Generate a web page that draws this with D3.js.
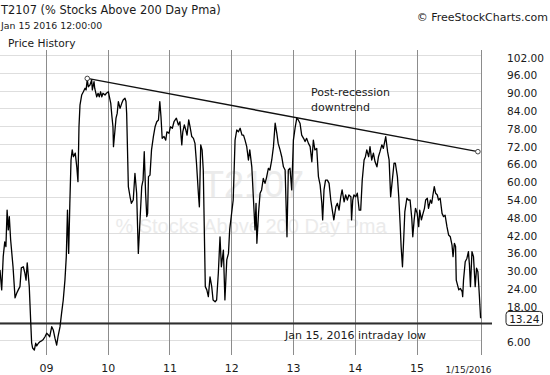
<!DOCTYPE html>
<html>
<head>
<meta charset="utf-8">
<script src="https://cdn.jsdelivr.net/npm/d3@7"></script>
<style>
  body { margin: 0; background: #fff; }
  text { font-family: "DejaVu Sans", Verdana, sans-serif; fill: #1a1a1a; }
</style>
</head>
<body>
<div id="chart"></div>
<script>
// T2107 readings, [date, % of stocks above 200 day moving average]
var t2107 = [
  ["2008-04-04", 29.5], ["2008-04-14", 22.8], ["2008-04-23", 34.0], ["2008-05-02", 39.0],
  ["2008-05-09", 37.4], ["2008-05-16", 49.7], ["2008-05-23", 43.0], ["2008-05-29", 47.5],
  ["2008-06-06", 39.6], ["2008-06-20", 30.6], ["2008-07-02", 20.1], ["2008-07-11", 21.6],
  ["2008-07-21", 22.8], ["2008-07-31", 23.9], ["2008-08-08", 30.2], ["2008-08-20", 30.6],
  ["2008-08-29", 28.5], ["2008-09-05", 26.1], ["2008-09-12", 31.9], ["2008-09-24", 23.9],
  ["2008-10-03", 11.5], ["2008-10-08", 4.9], ["2008-10-14", 3.2], ["2008-10-24", 2.5],
  ["2008-11-01", 4.8], ["2008-11-07", 3.9], ["2008-11-17", 4.8], ["2008-11-26", 5.3],
  ["2008-12-08", 5.7], ["2008-12-16", 6.1], ["2008-12-26", 7.0],
  ["2009-01-05", 8.2], ["2009-01-15", 7.6], ["2009-01-23", 7.0], ["2009-02-04", 10.4],
  ["2009-02-13", 9.3], ["2009-02-23", 6.5], ["2009-03-05", 4.2], ["2009-03-13", 7.0],
  ["2009-03-25", 10.4], ["2009-04-03", 14.9], ["2009-04-13", 19.4], ["2009-04-23", 26.1],
  ["2009-05-01", 34.0], ["2009-05-08", 49.7], ["2009-05-15", 35.1], ["2009-05-22", 52.0],
  ["2009-05-29", 66.6], ["2009-06-05", 70.0], ["2009-06-12", 67.7], ["2009-06-23", 68.9],
  ["2009-07-02", 64.3], ["2009-07-09", 59.3], ["2009-07-15", 77.8], ["2009-07-21", 85.1],
  ["2009-07-31", 88.5], ["2009-08-10", 89.6], ["2009-08-20", 90.8], ["2009-08-26", 90.2],
  ["2009-09-02", 93.8], ["2009-09-08", 91.3], ["2009-09-18", 91.9], ["2009-09-28", 93.6],
  ["2009-10-02", 90.2], ["2009-10-12", 93.0], ["2009-10-16", 90.8], ["2009-10-28", 87.9],
  ["2009-11-05", 89.1], ["2009-11-12", 87.9], ["2009-11-20", 89.6], ["2009-11-27", 87.9],
  ["2009-12-04", 89.1], ["2009-12-16", 88.5], ["2009-12-24", 89.1],
  ["2010-01-05", 89.6], ["2010-01-11", 87.9], ["2010-01-19", 85.7], ["2010-01-26", 81.2],
  ["2010-02-01", 77.8], ["2010-02-04", 71.1], ["2010-02-12", 76.1], ["2010-02-19", 80.7],
  ["2010-02-26", 82.3], ["2010-03-05", 86.3], ["2010-03-15", 84.0], ["2010-03-25", 85.7],
  ["2010-04-02", 86.8], ["2010-04-13", 87.4], ["2010-04-19", 86.3], ["2010-04-23", 82.3],
  ["2010-05-03", 57.6], ["2010-05-13", 54.2], ["2010-05-21", 52.0], ["2010-06-01", 53.1],
  ["2010-06-11", 62.1], ["2010-06-21", 55.4], ["2010-07-01", 35.1], ["2010-07-09", 44.1],
  ["2010-07-21", 57.6], ["2010-07-29", 59.8], ["2010-08-05", 69.4], ["2010-08-13", 55.4],
  ["2010-08-20", 47.5], ["2010-08-25", 48.6], ["2010-08-30", 61.0], ["2010-09-08", 61.5],
  ["2010-09-17", 70.0], ["2010-09-28", 74.5], ["2010-10-08", 77.8], ["2010-10-18", 79.5],
  ["2010-10-28", 80.1], ["2010-11-05", 86.3], ["2010-11-12", 81.2], ["2010-11-19", 73.9],
  ["2010-11-30", 74.5], ["2010-12-10", 73.3], ["2010-12-17", 76.1], ["2010-12-29", 75.6],
  ["2011-01-07", 77.8], ["2011-01-18", 77.3], ["2011-01-28", 79.5], ["2011-02-11", 80.7],
  ["2011-02-23", 78.4], ["2011-03-04", 79.5], ["2011-03-15", 71.7], ["2011-03-21", 76.1],
  ["2011-03-30", 78.4], ["2011-04-08", 76.7], ["2011-04-15", 75.0], ["2011-04-25", 80.1],
  ["2011-05-03", 77.8], ["2011-05-13", 74.5], ["2011-05-23", 73.9], ["2011-06-01", 72.2],
  ["2011-06-10", 65.5], ["2011-06-21", 55.4], ["2011-06-27", 50.8], ["2011-07-05", 71.7],
  ["2011-07-13", 70.0], ["2011-07-20", 63.2], ["2011-08-01", 23.9], ["2011-08-10", 22.8],
  ["2011-08-19", 20.5], ["2011-08-29", 27.2], ["2011-09-08", 23.9], ["2011-09-16", 19.4],
  ["2011-09-28", 18.8], ["2011-10-07", 19.4], ["2011-10-17", 28.4], ["2011-10-27", 40.7],
  ["2011-11-04", 30.6], ["2011-11-16", 36.2], ["2011-11-25", 19.4], ["2011-12-06", 32.9],
  ["2011-12-16", 35.1], ["2011-12-23", 43.0],
  ["2012-01-13", 53.1], ["2012-01-24", 73.3], ["2012-02-03", 76.7], ["2012-02-13", 76.1],
  ["2012-02-23", 77.3], ["2012-03-05", 75.0], ["2012-03-14", 75.0], ["2012-03-23", 73.3],
  ["2012-04-02", 71.1], ["2012-04-12", 66.6], ["2012-04-20", 70.0], ["2012-05-02", 64.3],
  ["2012-05-11", 54.2], ["2012-05-21", 43.0], ["2012-05-27", 52.0], ["2012-06-01", 38.5],
  ["2012-06-11", 48.8], ["2012-06-20", 55.4], ["2012-06-29", 56.5], ["2012-07-09", 60.4],
  ["2012-07-19", 58.7], ["2012-07-27", 60.4], ["2012-08-08", 63.8], ["2012-08-17", 63.2],
  ["2012-08-28", 66.6], ["2012-09-07", 71.1], ["2012-09-17", 79.0], ["2012-09-27", 75.6],
  ["2012-10-05", 72.2], ["2012-10-16", 70.0], ["2012-10-26", 67.7], ["2012-11-05", 64.3],
  ["2012-11-15", 63.2], ["2012-11-26", 40.7], ["2012-12-04", 63.2], ["2012-12-14", 63.8],
  ["2012-12-24", 56.5],
  ["2013-01-03", 73.3], ["2013-01-14", 77.8], ["2013-01-23", 80.7], ["2013-02-01", 80.1],
  ["2013-02-11", 79.0], ["2013-02-21", 75.0], ["2013-03-04", 73.9], ["2013-03-13", 72.8],
  ["2013-03-22", 73.9], ["2013-04-02", 72.2], ["2013-04-12", 71.1], ["2013-04-22", 66.0],
  ["2013-05-01", 73.3], ["2013-05-10", 70.0], ["2013-05-21", 70.5], ["2013-05-31", 61.0],
  ["2013-06-10", 58.2], ["2013-06-20", 52.0], ["2013-06-25", 46.4], ["2013-07-03", 56.5],
  ["2013-07-12", 59.8], ["2013-07-23", 59.8], ["2013-08-02", 58.7], ["2013-08-12", 53.1],
  ["2013-08-21", 49.7], ["2013-08-30", 46.4], ["2013-09-11", 50.8], ["2013-09-20", 52.0],
  ["2013-09-30", 49.7], ["2013-10-10", 54.2], ["2013-10-18", 56.5], ["2013-10-30", 52.5],
  ["2013-11-08", 54.8], ["2013-11-18", 53.1], ["2013-11-27", 54.8], ["2013-12-09", 54.2],
  ["2013-12-13", 46.4], ["2013-12-20", 53.1], ["2013-12-27", 54.8],
  ["2014-01-07", 54.2], ["2014-01-16", 55.4], ["2014-01-27", 49.7], ["2014-02-05", 49.7],
  ["2014-02-14", 59.8], ["2014-02-25", 66.6], ["2014-03-05", 67.7], ["2014-03-13", 70.0],
  ["2014-03-24", 67.7], ["2014-04-01", 71.1], ["2014-04-11", 66.6], ["2014-04-21", 68.9],
  ["2014-05-01", 66.0], ["2014-05-12", 64.3], ["2014-05-21", 67.7], ["2014-05-30", 69.4],
  ["2014-06-10", 71.7], ["2014-06-19", 70.5], ["2014-07-03", 74.5], ["2014-07-14", 69.4],
  ["2014-07-23", 66.6], ["2014-08-01", 54.2], ["2014-08-11", 59.8], ["2014-08-21", 65.5],
  ["2014-08-29", 65.5], ["2014-09-10", 61.0], ["2014-09-18", 54.2], ["2014-09-26", 45.2],
  ["2014-10-02", 37.4], ["2014-10-10", 30.6], ["2014-10-17", 39.6], ["2014-10-24", 49.2],
  ["2014-11-05", 53.7], ["2014-11-14", 53.1], ["2014-11-24", 53.1], ["2014-12-04", 46.9],
  ["2014-12-10", 40.7], ["2014-12-18", 46.4], ["2014-12-26", 50.3],
  ["2015-01-05", 48.6], ["2015-01-14", 44.1], ["2015-01-20", 49.7], ["2015-01-30", 46.4],
  ["2015-02-06", 48.0], ["2015-02-17", 50.3], ["2015-02-24", 53.1], ["2015-03-06", 53.7],
  ["2015-03-13", 50.3], ["2015-03-24", 53.1], ["2015-04-01", 52.0], ["2015-04-08", 54.8],
  ["2015-04-16", 57.6], ["2015-04-24", 55.4], ["2015-05-04", 54.8], ["2015-05-11", 53.1],
  ["2015-05-21", 53.7], ["2015-06-01", 48.6], ["2015-06-10", 47.5], ["2015-06-19", 48.0],
  ["2015-06-30", 44.1], ["2015-07-10", 41.3], ["2015-07-20", 40.7], ["2015-07-30", 37.9],
  ["2015-08-05", 34.0], ["2015-08-13", 38.5], ["2015-08-20", 37.4], ["2015-08-24", 26.1],
  ["2015-09-08", 22.8], ["2015-09-17", 23.3], ["2015-09-28", 22.2], ["2015-10-01", 20.5],
  ["2015-10-06", 26.1], ["2015-10-16", 32.3], ["2015-10-26", 33.4], ["2015-11-04", 35.7],
  ["2015-11-10", 31.2], ["2015-11-16", 23.9], ["2015-11-25", 35.7], ["2015-12-04", 34.0],
  ["2015-12-14", 23.9], ["2015-12-22", 30.1], ["2015-12-30", 28.9],
  ["2016-01-07", 21.6], ["2016-01-15", 13.24]
];

var yTicks = [102, 96, 90, 84, 78, 72, 66, 60, 54, 48, 42, 36, 30, 24, 18, 12, 6];
var yearTicks = ["2009-01-01", "2010-01-01", "2011-01-01", "2012-01-01", "2013-01-01", "2014-01-01", "2015-01-01"];
var yearLabels = ["09", "10", "11", "12", "13", "14", "15"];
var lastDate = "2016-01-15";
var lastDateLabel = "1/15/2016";
var lastValue = 13.24;
var intradayLow = 11.5;
var trendline = [["2009-09-02", 94.1], ["2015-12-30", 69.4]];

var width = 550, height = 375;
var plot = {left: 0, right: 482, top: 50, bottom: 355};
var parseDate = d3.timeParse("%Y-%m-%d");

var data = t2107.map(function(d) { return {date: parseDate(d[0]), value: d[1]}; });

var x = d3.scaleTime()
  .domain([parseDate("2009-01-01"), parseDate(lastDate)])
  .range([46, 480.6]);

var y = d3.scaleLinear()
  .domain([6, 102])
  .range([339.7, 55]);

var svg = d3.select("#chart")
  .append("svg")
  .attr("width", width)
  .attr("height", height);

// faint watermark
svg.append("text")
  .attr("x", 253).attr("y", 197)
  .attr("text-anchor", "middle")
  .style("font-family", "'Liberation Sans', Arial, sans-serif")
  .style("font-size", "36px")
  .style("fill", "#ebebeb")
  .text("T2107");
svg.append("text")
  .attr("x", 251).attr("y", 233)
  .attr("text-anchor", "middle")
  .style("font-family", "'Liberation Sans', Arial, sans-serif")
  .style("font-size", "20px")
  .style("fill", "#ebebeb")
  .text("% Stocks Above 200 Day Pma");

// horizontal grid
svg.append("g")
  .selectAll("line")
  .data(yTicks)
  .enter()
  .append("line")
  .attr("x1", plot.left).attr("x2", plot.right)
  .attr("y1", function(d) { return Math.round(y(d)) + 0.5; })
  .attr("y2", function(d) { return Math.round(y(d)) + 0.5; })
  .attr("stroke", "#dedede");

// vertical grid at year starts + last date
var vDates = yearTicks.map(parseDate).concat([parseDate(lastDate)]);
svg.append("g")
  .selectAll("line")
  .data(vDates)
  .enter()
  .append("line")
  .attr("x1", function(d) { return Math.round(x(d)) + 0.5; })
  .attr("x2", function(d) { return Math.round(x(d)) + 0.5; })
  .attr("y1", plot.top).attr("y2", plot.bottom)
  .attr("stroke", "#8c8c8c");

// intraday low line
svg.append("line")
  .attr("x1", plot.left).attr("x2", 492)
  .attr("y1", y(intradayLow)).attr("y2", y(intradayLow))
  .attr("stroke", "#2e2e2e")
  .attr("stroke-width", 2);

// right axis labels
var yAxis = d3.axisRight(y)
  .tickValues(yTicks.filter(function(d) { return Math.abs(d - lastValue) > 4; }))
  .tickFormat(d3.format(".2f"))
  .tickSize(0)
  .tickPadding(25);

svg.append("g")
  .attr("transform", "translate(" + plot.right + ",0)")
  .call(yAxis)
  .call(function(g) { g.select(".domain").remove(); })
  .selectAll("text")
  .attr("dy", "0.58em")
  .style("font-family", "'DejaVu Sans', Verdana, sans-serif")
  .style("font-size", "10.6px")
  .style("fill", "#1a1a1a");

// bottom axis labels
var xAxis = d3.axisBottom(x)
  .tickValues(yearTicks.map(parseDate))
  .tickFormat(function(d, i) { return yearLabels[i]; })
  .tickSize(0)
  .tickPadding(9);

svg.append("g")
  .attr("transform", "translate(0," + plot.bottom + ")")
  .call(xAxis)
  .call(function(g) { g.select(".domain").remove(); })
  .selectAll("text")
  .style("font-family", "'DejaVu Sans', Verdana, sans-serif")
  .style("font-size", "11px")
  .style("fill", "#1a1a1a");

svg.append("text")
  .attr("x", x(parseDate(lastDate)) + 11)
  .attr("y", 372.5)
  .attr("text-anchor", "end")
  .style("font-size", "9px")
  .text(lastDateLabel);

// trend line with end markers
var trend = trendline.map(function(d) { return {date: parseDate(d[0]), value: d[1]}; });
svg.append("line")
  .attr("x1", x(trend[0].date)).attr("y1", y(trend[0].value))
  .attr("x2", x(trend[1].date)).attr("y2", y(trend[1].value))
  .attr("stroke", "#111")
  .attr("stroke-width", 1.4);

// the series
var line = d3.line()
  .x(function(d) { return x(d.date); })
  .y(function(d) { return y(d.value); });

svg.append("path")
  .datum(data)
  .attr("d", line)
  .attr("fill", "none")
  .attr("stroke", "#000")
  .attr("stroke-width", 1.3)
  .attr("stroke-linejoin", "round");

svg.selectAll(".trend-end")
  .data(trend)
  .enter()
  .append("circle")
  .attr("class", "trend-end")
  .attr("cx", function(d) { return x(d.date); })
  .attr("cy", function(d) { return y(d.value); })
  .attr("r", 2.3)
  .attr("fill", "#fff")
  .attr("stroke", "#444")
  .attr("stroke-width", 1);

// last value box
var ly = y(lastValue);
svg.append("rect")
  .attr("x", 506).attr("y", ly - 6.8)
  .attr("width", 36.5).attr("height", 14)
  .attr("rx", 3)
  .attr("fill", "#fff")
  .attr("stroke", "#222");
svg.append("text")
  .attr("x", 524.3).attr("y", ly + 4.3)
  .attr("text-anchor", "middle")
  .style("font-size", "10.6px")
  .text(d3.format(".2f")(lastValue));

// annotations
svg.append("text")
  .attr("x", 311).attr("y", 96)
  .style("font-size", "11px")
  .text("Post-recession");
svg.append("text")
  .attr("x", 311).attr("y", 111)
  .style("font-size", "11px")
  .text("downtrend");
svg.append("text")
  .attr("x", 285).attr("y", y(intradayLow) + 15.5)
  .style("font-size", "11px")
  .text("Jan 15, 2016 intraday low");

// header
svg.append("text")
  .attr("x", 1).attr("y", 14)
  .style("font-size", "11.4px")
  .text("T2107 (% Stocks Above 200 Day Pma)");
svg.append("text")
  .attr("x", 1).attr("y", 28.5)
  .style("font-size", "9.4px")
  .text("Jan 15 2016 12:00:00");
svg.append("text")
  .attr("x", 8).attr("y", 47)
  .style("font-size", "10.7px")
  .text("Price History");
svg.append("text")
  .attr("x", 548).attr("y", 21)
  .attr("text-anchor", "end")
  .style("font-size", "11px")
  .text("\u00a9 FreeStockCharts.com");
</script>
</body>
</html>
